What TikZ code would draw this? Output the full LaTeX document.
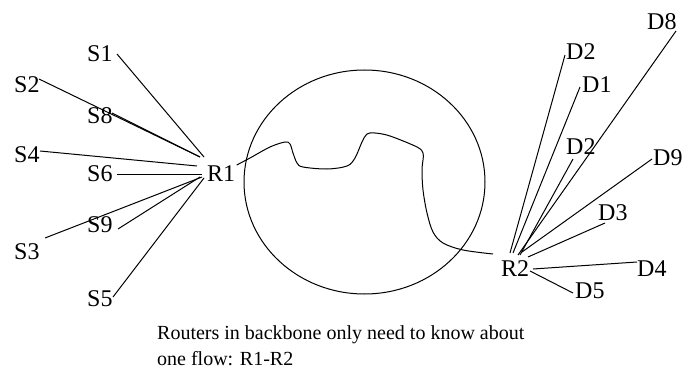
\documentclass[tikz,border=0pt]{standalone}
\usepackage{fontspec}
\setmainfont{Liberation Serif}
\usetikzlibrary{shapes.geometric}
\begin{document}
\begin{tikzpicture}[x=1pt,y=-1pt,
  lbl/.style={inner sep=0pt,anchor=base west,font=\fontsize{24}{28}\selectfont},
  captxt/.style={inner sep=0pt,anchor=base west,font=\fontsize{20}{26}\selectfont},
  wire/.style={draw=black,line width=1pt}]
\useasboundingbox (0,0) rectangle (688,377);
% source labels
\node[lbl] (s1) at (87,62) {S1};
\node[lbl] (s2) at (14,93) {S2};
\node[lbl] (s8) at (87,124) {S8};
\node[lbl] (s4) at (14,162) {S4};
\node[lbl] (s6) at (87,181) {S6};
\node[lbl] (s9) at (87,232) {S9};
\node[lbl] (s3) at (14,259) {S3};
\node[lbl] (s5) at (87,306) {S5};
\node[lbl] (r1) at (207,181) {R1};
% destination labels
\node[lbl] (d8) at (647,30) {D8};
\node[lbl] (d2a) at (566,60) {D2};
\node[lbl] (d1) at (582,93) {D1};
\node[lbl] (d2b) at (566,155) {D2};
\node[lbl] (d9) at (653,165) {D9};
\node[lbl] (d3) at (598,220) {D3};
\node[lbl] (r2) at (501,276) {R2};
\node[lbl] (d4) at (637,276) {D4};
\node[lbl] (d5) at (575,298) {D5};
% caption
\node[captxt] (c1) at (157,339) {Routers in backbone only need to know about};
\node[captxt] (c2) at (157,365) {one flow: R1-R2};
% backbone
\node[draw,line width=1pt,ellipse,minimum width=241pt,minimum height=224pt,inner sep=0pt] (bb) at (364.5,182) {};
% end points near routers
\coordinate (a1) at (204,157);
\coordinate (a2) at (200,157);
\coordinate (a4) at (197,166);
\coordinate (a6) at (202,174);
\coordinate (a9) at (200,177);
\coordinate (a3) at (202,177);
\coordinate (a5) at (204,178);
\coordinate (b8) at (518,255);
\coordinate (b2a) at (510,253);
\coordinate (b1) at (513,253);
\coordinate (b2b) at (520,255);
\coordinate (b9) at (522,252);
\coordinate (b3) at (528,257);
\coordinate (b4) at (533,269);
\coordinate (b5) at (530,271);
\coordinate (e1) at (117,54);
\coordinate (e2) at (39,79);
\coordinate (e8) at (112,113);
\coordinate (e4) at (40,151);
\coordinate (e6) at (117,174);
\coordinate (e9) at (118,229);
\coordinate (e3) at (45,238);
\coordinate (e5) at (113,297);
\coordinate (f8) at (676,31);
\coordinate (f2a) at (565,55);
\coordinate (f1) at (580,87);
\coordinate (f2b) at (573,159);
\coordinate (f9) at (652,159);
\coordinate (f3) at (605,223);
\coordinate (f4) at (637,262);
\coordinate (f5) at (573,293);
\draw[wire] (e1) -- (a1);
\draw[wire] (e2) -- (a2);
\draw[wire] (e8) -- (a2);
\draw[wire] (e4) -- (a4);
\draw[wire] (e6) -- (a6);
\draw[wire] (e9) -- (a9);
\draw[wire] (e3) -- (a3);
\draw[wire] (e5) -- (a5);
\draw[wire] (f8) -- (b8);
\draw[wire] (f2a) -- (b2a);
\draw[wire] (f1) -- (b1);
\draw[wire] (f2b) -- (b2b);
\draw[wire] (f9) -- (b9);
\draw[wire] (f3) -- (b3);
\draw[wire] (f4) -- (b4);
\draw[wire] (f5) -- (b5);
% path through backbone
\draw[wire] plot[smooth,tension=0.55] coordinates {(236.7,165) (250,158) (270,147) (285,142) (290,144) (293,153) (297,163) (303,167) (327,169) (347,166) (355,158) (362,142) (367,134) (375,133) (390,136) (417,147) (423,153) (423,160) (422,170) (423,190) (427,213) (433,232) (443,243) (463,250) (493,254)};
\end{tikzpicture}
\end{document}
